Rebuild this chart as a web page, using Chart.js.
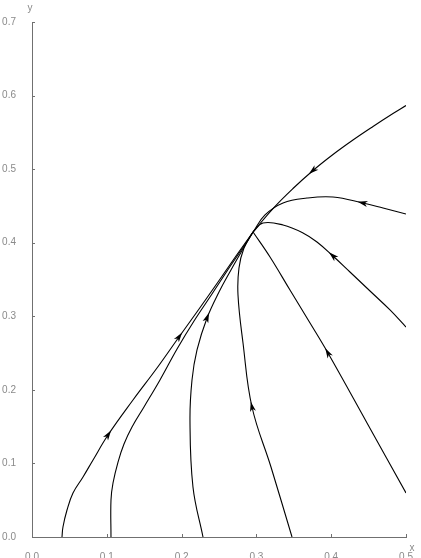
<!DOCTYPE html>
<html>
<head>
<meta charset="utf-8">
<script src="https://cdn.jsdelivr.net/npm/chart.js@4"></script>
<style>
  body { margin: 0; background: #fff; }
  #wrap { width: 421px; height: 558px; }
</style>
</head>
<body>
<div id="wrap"><canvas id="phaseChart"></canvas></div>
<script>
// trajectories, each ordered from its start towards the node
var node = [0.2955, 0.4146];
var curveTop = [[0.5, 0.5865], [0.4826, 0.5756], [0.4559, 0.558], [0.4291, 0.5396], [0.4024, 0.5199], [0.3757, 0.4982], [0.3489, 0.4737], [0.3222, 0.4465], node];
var curveHigh = [[0.5, 0.439], [0.4693, 0.4472], [0.4425, 0.454], [0.4024, 0.4621], [0.3676, 0.4607], [0.3356, 0.454], [0.3115, 0.4377], node];
var curveMid = [[0.5, 0.2854], [0.4786, 0.3086], [0.4519, 0.3344], [0.4251, 0.3602], [0.4024, 0.3819], [0.381, 0.401], [0.3623, 0.4133], [0.3356, 0.4241], [0.3088, 0.4268], node];
var curveLow = [[0.5, 0.0598], [0.4479, 0.155], [0.3957, 0.2501], [0.3717, 0.2909], [0.3449, 0.3357], [0.3182, 0.3806], node];
var curveB1 = [[0.3476, 0], [0.3195, 0.0951], [0.2941, 0.1767], [0.2821, 0.2637], [0.2754, 0.3289], [0.2767, 0.3656], [0.2834, 0.3928], node];
var curveB2 = [[0.2286, 0], [0.2152, 0.068], [0.2112, 0.159], [0.2139, 0.2134], [0.2206, 0.2542], [0.234, 0.2977], [0.25, 0.333], [0.266, 0.3629], [0.2821, 0.3915], node];
var curveB3 = [[0.1056, 0], [0.1056, 0.0503], [0.1083, 0.0734], [0.115, 0.1019], [0.123, 0.1264], [0.1337, 0.1495], [0.1497, 0.1767], [0.1711, 0.2134], [0.1939, 0.2555], [0.2166, 0.2936], [0.2406, 0.3303], [0.2634, 0.3656], [0.2807, 0.3915], node];
var curveB4 = [[0.0401, 0], [0.0414, 0.0136], [0.0468, 0.0367], [0.0548, 0.0598], [0.0682, 0.0816], [0.0816, 0.1047], [0.1016, 0.1386], [0.135, 0.1862], [0.1671, 0.2297], [0.1965, 0.2719], [0.2233, 0.3099], [0.2487, 0.3466], [0.2727, 0.3819], node];

var curves = [curveTop, curveHigh, curveMid, curveLow, curveB1, curveB2, curveB3, curveB4];
// index of the point carrying an arrow head on each curve (-1: none)
var arrowAt = [5, 2, 4, 2, 2, 5, -1, 6];
var arrowAt2 = [-1, -1, -1, -1, -1, -1, -1, 9];

var xTicks = [0, 0.1, 0.2, 0.3, 0.4, 0.5];
var yTicks = [0, 0.1, 0.2, 0.3, 0.4, 0.5, 0.6, 0.7];

var labelColor = "#8a8a8a";
var axisColor = "#707070";

var datasets = curves.map(function (c) {
  return {
    data: c.map(function (p) { return { x: p[0], y: p[1] }; }),
    showLine: true,
    borderColor: "#000",
    borderWidth: 1.1,
    pointRadius: 0,
    tension: 0.4,
    fill: false,
  };
});

var decorPlugin = {
  id: "decor",
  afterDatasetsDraw: function (chart) {
    var ctx = chart.ctx;
    var xs = chart.scales.x;
    var ys = chart.scales.y;
    var area = chart.chartArea;
    ctx.save();

    // arrow heads
    ctx.fillStyle = "#000";
    curves.forEach(function (c, ci) {
      [arrowAt[ci], arrowAt2[ci]].forEach(function (k) {
        if (k < 0) return;
        var prev = c[Math.max(k - 1, 0)];
        var next = c[Math.min(k + 1, c.length - 1)];
        var px = xs.getPixelForValue(c[k][0]);
        var py = ys.getPixelForValue(c[k][1]);
        var dx = xs.getPixelForValue(next[0]) - xs.getPixelForValue(prev[0]);
        var dy = ys.getPixelForValue(next[1]) - ys.getPixelForValue(prev[1]);
        var len = Math.sqrt(dx * dx + dy * dy);
        dx /= len;
        dy /= len;
        var tipX = px + dx * 5.5, tipY = py + dy * 5.5;
        var bx = px - dx * 4.5, by = py - dy * 4.5;
        ctx.beginPath();
        ctx.moveTo(tipX, tipY);
        ctx.lineTo(bx - dy * 3, by + dx * 3);
        ctx.lineTo(px - dx * 1.8, py - dy * 1.8);
        ctx.lineTo(bx + dy * 3, by - dx * 3);
        ctx.closePath();
        ctx.fill();
      });
    });

    // inward tick marks
    ctx.strokeStyle = axisColor;
    ctx.lineWidth = 1;
    ctx.beginPath();
    yTicks.forEach(function (v) {
      var y = Math.round(ys.getPixelForValue(v)) + 0.5;
      ctx.moveTo(area.left, y);
      ctx.lineTo(area.left + 3, y);
    });
    xTicks.forEach(function (v) {
      var x = Math.round(xs.getPixelForValue(v)) + 0.5;
      ctx.moveTo(x, area.bottom);
      ctx.lineTo(x, area.bottom - 3);
    });
    ctx.stroke();

    // axis names
    ctx.fillStyle = labelColor;
    ctx.font = "10px 'Liberation Sans', Arial, sans-serif";
    ctx.textAlign = "center";
    ctx.textBaseline = "middle";
    ctx.fillText("y", area.left - 2, 8);
    ctx.fillText("x", area.right + 6, area.bottom + 11);
    ctx.restore();
  },
};

var ctx = document.getElementById("phaseChart").getContext("2d");
var phaseChart = new Chart(ctx, {
  type: "scatter",
  data: { datasets: datasets },
  options: {
    responsive: true,
    maintainAspectRatio: false,
    animation: false,
    layout: { padding: { top: 22, right: 15, left: 0, bottom: 0 } },
    plugins: {
      legend: { display: false },
      tooltip: { enabled: false },
    },
    scales: {
      x: {
        type: "linear",
        min: 0,
        max: 0.5,
        afterFit: function (s) { s.height = 21; },
        afterBuildTicks: function (s) {
          s.ticks = xTicks.map(function (v) { return { value: v }; });
        },
        grid: { display: false },
        border: { display: true, color: axisColor, width: 1 },
        ticks: {
          padding: 6,
          color: labelColor,
          font: { family: "'Liberation Sans', Arial, sans-serif", size: 10 },
          maxRotation: 0,
          callback: function (v) { return Number(v).toFixed(1); },
        },
      },
      y: {
        type: "linear",
        min: 0,
        max: 0.7,
        afterFit: function (s) { s.width = 32; },
        afterBuildTicks: function (s) {
          s.ticks = yTicks.map(function (v) { return { value: v }; });
        },
        grid: { display: false },
        border: { display: true, color: axisColor, width: 1 },
        ticks: {
          padding: 8,
          color: labelColor,
          font: { family: "'Liberation Sans', Arial, sans-serif", size: 10 },
          callback: function (v) { return Number(v).toFixed(1); },
        },
      },
    },
  },
  plugins: [decorPlugin],
});
</script>
</body>
</html>
